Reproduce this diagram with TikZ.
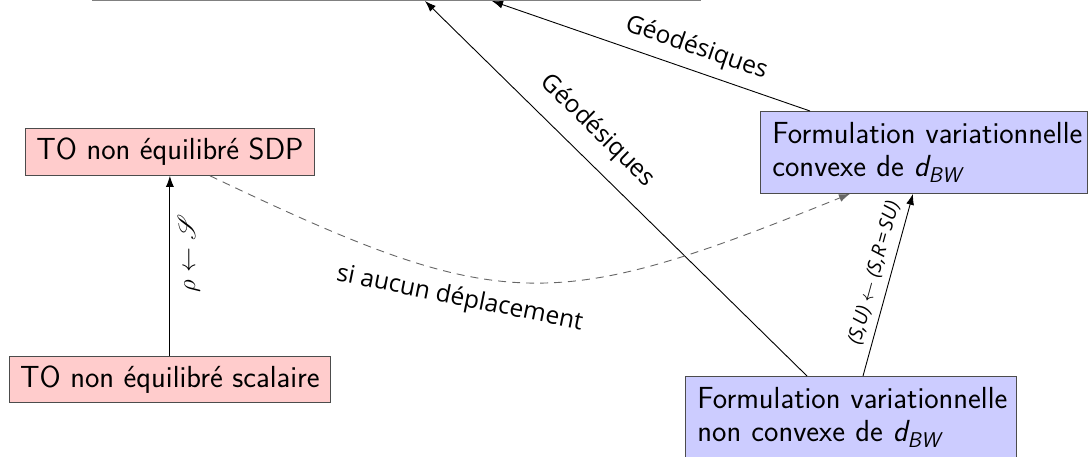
\documentclass[tikz,border=0pt]{standalone}
\usepackage{fontspec}
\usepackage{amsmath}
\usepackage{mathrsfs}
\newfontfamily\labfont{Open Sans}
\usetikzlibrary{arrows.meta,calc}
\begin{document}
\begin{tikzpicture}[x=1pt,y=-1pt,
  box/.style={draw=black!70, line width=0.8pt, font=\sffamily\fontsize{30.5}{33}\selectfont, inner sep=0pt, anchor=north west},
  pinkbox/.style={box, fill=red!20},
  bluebox/.style={box, fill=blue!20, align=left, inner xsep=12pt},
  arr/.style={line width=0.9pt, -{Latex[length=11pt,width=8pt]}},
  lab/.style={font=\labfont\fontsize{24.5}{28}\selectfont, sloped},
  smalllab/.style={font=\labfont\itshape\fontsize{19.5}{22}\selectfont, sloped},
]
\useasboundingbox (0,0) rectangle (1090,456);
\node[draw=black!50, line width=0.8pt, minimum width=608pt, minimum height=80pt, anchor=south west, inner sep=0pt] (top) at (92,1) {};
\node[pinkbox, minimum width=289pt, minimum height=47pt] (sdp) at (25,128) {TO non équilibré SDP};
\node[pinkbox, minimum width=321pt, minimum height=46pt] (scal) at (9,356) {TO non équilibré scalaire};
\node[bluebox, text width=303pt, minimum height=82pt] (conv) at (760,111) {\mbox{Formulation variationnelle}\\\mbox{convexe de {\itshape d}$_{\textit{BW}}$}};
\node[bluebox, text width=307pt, minimum height=82pt] (nconv) at (685,376) {\mbox{Formulation variationnelle}\\\mbox{non convexe de {\itshape d}$_{\textit{BW}}$}};

\draw[arr] ($(conv.north west)+(50,0)$) -- node[lab, pos=0.38, above=6pt] {Géodésiques} ($(top.south west)+(400,0)$);
\draw[arr] ($(nconv.north west)+(122,0)$) -- node[lab, pos=0.6, above=12pt] {Géodésiques} ($(top.south west)+(333,0)$);
\draw[arr] ($(nconv.north west)+(178,0)$) -- node[smalllab, pos=0.54, above=4pt] {(S,U) $\leftarrow$ (S,R\,=\,SU)} ($(conv.south west)+(153,0)$);
\draw[arr] (scal.north) -- node[pos=0.57, sloped, below=4pt, font=\fontsize{25}{28}\selectfont] {$\rho \leftarrow \mathscr{S}$} (sdp.south);
\draw[arr, draw=black!60, dash pattern=on 8pt off 6pt] ($(sdp.south west)+(185,0)$) .. controls (502,315) and (550,315) .. node[lab, pos=0.38, below=8pt] {si aucun déplacement} ($(conv.south west)+(90,0)$);
\end{tikzpicture}
\end{document}
